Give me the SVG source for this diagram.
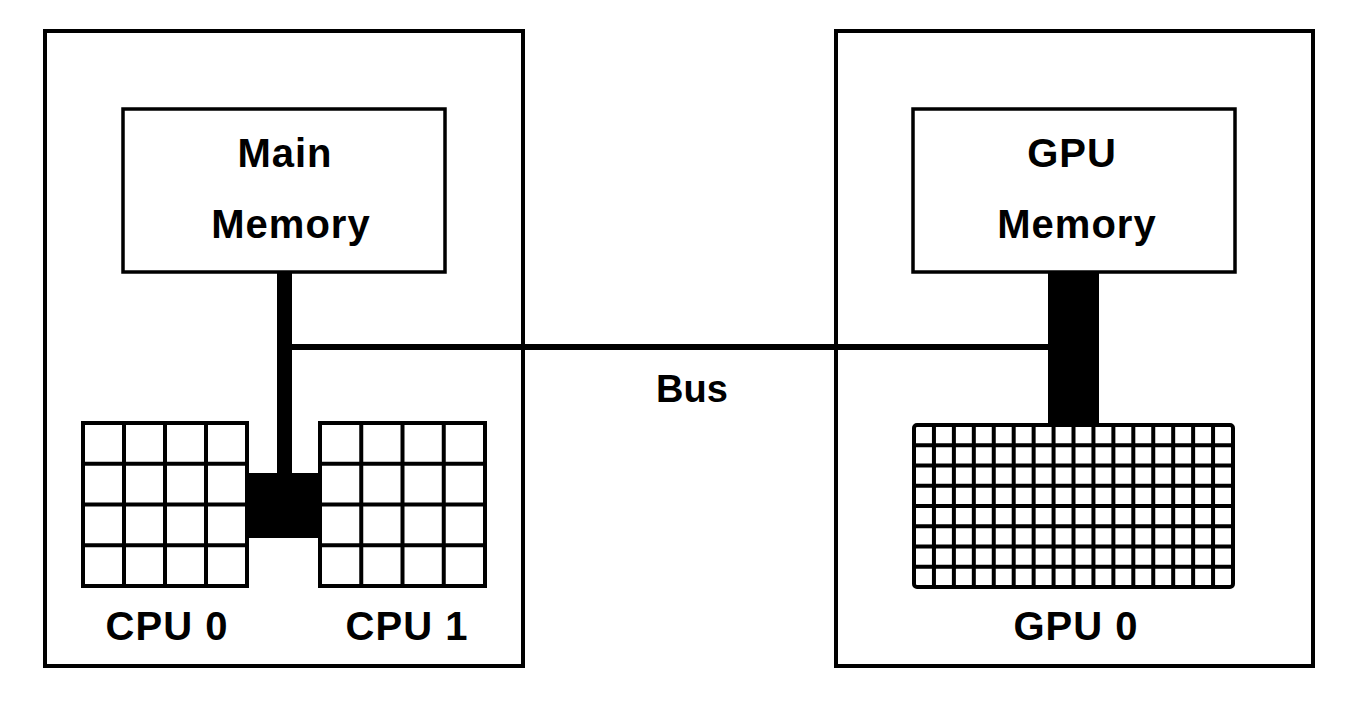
<svg xmlns="http://www.w3.org/2000/svg" width="1356" height="704" viewBox="0 0 1356 704">
  <style>
    .box { fill: none; stroke: #000; stroke-width: 4; }
    .mem { fill: #fff; stroke: #000; stroke-width: 3.5; }
    .grid { fill: none; stroke: #000; stroke-width: 4; }
    .link { fill: #000; stroke: none; }
    .label { font-family: "Liberation Sans", Arial, Helvetica, sans-serif; font-weight: bold; font-size: 40px; letter-spacing: 1px; fill: #000; text-anchor: middle; }
    .bus { letter-spacing: 0; font-size: 38px; }
  </style>
  <rect width="1356" height="704" fill="#fff"/>

  <!-- Host system -->
  <g id="host">
    <rect class="box" x="45" y="31" width="478" height="635"/>
  </g>

  <!-- GPU card -->
  <g id="device">
    <rect class="box" x="836" y="31" width="477" height="635"/>
  </g>

  <!-- Connectors: memory stems, CPU link block and the bus -->
  <g id="connectors">
    <rect class="link" x="277" y="270" width="15" height="205"/>
    <rect class="link" x="247" y="473" width="75" height="65"/>
    <rect class="link" x="277" y="344" width="773" height="6"/>
    <rect class="link" x="1048" y="270" width="51" height="157"/>
  </g>

  <g id="main-memory">
    <rect class="mem" x="123" y="109" width="322" height="163"/>
    <text class="label" x="285" y="167">Main</text>
    <text class="label" x="291" y="238">Memory</text>
  </g>

  <g id="gpu-memory">
    <rect class="mem" x="913" y="109" width="322" height="163"/>
    <text class="label" x="1072" y="167">GPU</text>
    <text class="label" x="1077" y="238">Memory</text>
  </g>

  <g id="cpu0">
    <rect class="grid" x="83" y="423" width="164" height="163"/>
    <path class="grid" d="M124 423V586M165 423V586M206 423V586M83 463.75H247M83 504.5H247M83 545.25H247"/>
    <text class="label" x="167" y="640">CPU 0</text>
  </g>

  <g id="cpu1">
    <rect class="grid" x="320" y="423" width="165" height="163"/>
    <path class="grid" d="M361.25 423V586M402.5 423V586M443.75 423V586M320 463.75H485M320 504.5H485M320 545.25H485"/>
    <text class="label" x="407" y="640">CPU 1</text>
  </g>

  <g id="gpu0">
    <rect class="grid" x="914" y="425" width="319" height="162" rx="3"/>
    <path class="grid" d="M933.94 425V587M953.88 425V587M973.81 425V587M993.75 425V587M1013.69 425V587M1033.63 425V587M1053.56 425V587M1073.5 425V587M1093.44 425V587M1113.38 425V587M1133.31 425V587M1153.25 425V587M1173.19 425V587M1193.13 425V587M1213.06 425V587M914 445.25H1233M914 465.5H1233M914 485.75H1233M914 506H1233M914 526.25H1233M914 546.5H1233M914 566.75H1233"/>
    <text class="label" x="1076" y="640">GPU 0</text>
  </g>

  <g id="bus-label">
    <text class="label bus" x="692" y="402">Bus</text>
  </g>
</svg>
